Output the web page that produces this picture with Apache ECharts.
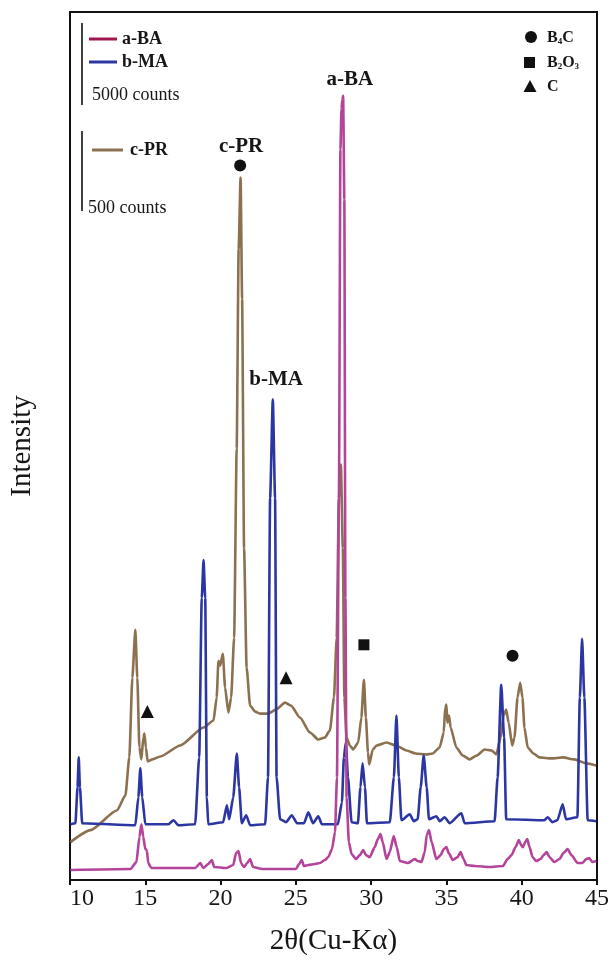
<!DOCTYPE html>
<html><head><meta charset="utf-8">
<script src="https://cdn.jsdelivr.net/npm/echarts@6/dist/echarts.min.js"></script>
<style>html,body{margin:0;padding:0;background:#fff}#c{width:613px;height:961px}</style>
</head><body><div id="c"></div>
<script>
// 2θ tick labels
const xTicks = [10, 15, 20, 25, 30, 35, 40, 45];

// a-BA pattern: [2θ, intensity (a.u., offset)]
const aBA = [[10.03,10],[14.01,11],[14.41,18],[14.61,43],[14.74,56],[14.87,43],[15.00,31],[15.10,30],[15.20,17],[15.40,12],
[18.32,12],[18.65,17],[18.85,12],[19.18,16],[19.42,20],[19.58,13],[20.37,12],[20.84,15],[21.03,27],[21.19,29],[21.36,17],
[21.56,13],[21.76,17],[21.96,21],[22.16,13],[22.76,11],[25.01,11],[25.21,16],[25.39,20],[25.54,14],[25.83,15],[26.27,16],
[26.60,17],[26.93,20],[27.15,23],[27.40,31],[27.60,48],[27.73,103],[27.86,383],[27.96,733],[28.03,774],[28.09,783],[28.14,787],
[28.22,683],[28.29,283],[28.37,83],[28.52,38],[28.70,26],[28.99,21],[29.25,25],[29.47,30],[29.65,25],[29.91,23],[30.24,33],
[30.44,41],[30.62,46],[30.77,38],[31.02,21],[31.24,28],[31.50,44],[31.70,33],[31.90,19],[32.43,17],[32.90,21],[33.09,19],
[33.34,18],[33.56,28],[33.69,45],[33.84,50],[34.02,38],[34.33,21],[34.62,25],[34.82,31],[35.00,33],[35.15,27],[35.43,20],
[35.74,23],[35.94,28],[36.14,21],[36.32,15],[36.87,14],[37.86,13],[38.75,14],[39.06,21],[39.33,25],[39.59,33],[39.81,40],
[39.96,35],[40.08,33],[40.23,38],[40.37,41],[40.52,33],[40.72,23],[40.96,19],[41.25,21],[41.45,25],[41.66,28],[41.84,23],
[42.17,18],[42.51,21],[42.77,27],[43.05,31],[43.30,25],[43.72,17],[44.03,17],[44.29,21],[44.49,22],[44.69,18],[44.96,19]];

// b-MA pattern
const bMA = [[10.03,56],[10.36,57],[10.50,93],[10.58,123],[10.66,93],[10.81,57],[14.34,55],[14.54,83],[14.67,112],[14.80,83],
[15.00,56],[16.53,56],[16.88,60],[17.19,55],[18.31,56],[18.58,123],[18.75,283],[18.87,321],[18.98,283],[19.09,83],[19.18,56],
[20.17,58],[20.42,75],[20.57,61],[20.84,83],[21.08,127],[21.23,93],[21.41,57],[21.70,65],[21.96,55],[22.96,56],[23.15,103],
[23.29,383],[23.47,482],[23.62,383],[23.72,103],[23.95,61],[24.35,58],[24.73,65],[25.08,57],[25.54,57],[25.83,68],[26.14,57],
[26.49,64],[26.73,56],[27.79,56],[28.06,78],[28.19,123],[28.32,138],[28.46,103],[28.70,58],[29.12,57],[29.29,93],[29.43,117],
[29.59,93],[29.72,57],[31.24,58],[31.51,103],[31.68,165],[31.84,103],[32.01,60],[32.57,66],[32.83,59],[33.09,61],[33.29,93],
[33.49,125],[33.69,93],[33.84,61],[34.33,64],[34.55,59],[34.88,63],[35.22,57],[35.99,67],[36.21,57],[38.20,59],[38.40,103],
[38.64,196],[38.83,143],[38.97,61],[41.51,60],[41.73,63],[42.04,58],[42.37,60],[42.72,76],[42.94,61],[43.70,63],[43.86,183],
[44.01,242],[44.16,183],[44.38,60],[44.96,59]];

// c-PR pattern
const cPR = [[10.03,38],[11.36,50],[13.13,70],[13.68,85],[13.94,123],[14.14,203],[14.34,251],[14.47,203],[14.61,133],[14.74,121],
[14.87,143],[14.94,147],[15.04,133],[15.16,119],[15.47,121],[16.00,124],[17.32,135],[18.87,153],[19.53,160],[19.74,183],
[19.86,220],[19.97,215],[20.15,227],[20.30,193],[20.52,168],[20.70,183],[20.90,243],[21.07,433],[21.20,633],[21.33,705],
[21.43,583],[21.56,333],[21.73,213],[21.96,175],[22.29,169],[22.62,167],[23.15,167],[23.68,171],[24.28,178],[24.68,175],
[25.27,163],[25.94,148],[26.49,141],[26.93,143],[27.26,150],[27.53,183],[27.71,243],[27.86,383],[27.99,417],[28.12,333],
[28.22,183],[28.37,143],[28.59,135],[28.81,131],[29.14,138],[29.35,163],[29.52,201],[29.65,163],[29.79,128],[29.87,116],
[30.11,131],[30.36,135],[31.02,138],[31.64,135],[32.35,130],[32.96,127],[33.67,126],[34.09,127],[34.55,133],[34.82,148],
[34.92,173],[35.00,176],[35.06,158],[35.17,165],[35.28,153],[35.66,133],[36.08,125],[36.54,121],[37.01,125],[37.54,131],
[38.00,130],[38.31,126],[38.60,143],[38.79,165],[38.97,171],[39.13,158],[39.37,135],[39.52,143],[39.72,183],[39.90,198],
[40.05,183],[40.18,153],[40.40,133],[40.78,127],[41.18,123],[41.98,122],[42.72,123],[43.50,121],[44.29,117],[44.94,115]];

// phase markers [2θ, intensity]
const markB4C = [[21.30,717],[39.39,225]];
const markB2O3 = [[29.52,236]];
const markC = [[15.14,169],[24.35,203]];

// peak labels [2θ, intensity, text]
const peakLabels = [[21.36,736,'c-PR'],[23.69,502,'b-MA'],[28.59,803,'a-BA']];

const COL_A = '#b4449a', COL_A_LEG = '#a0174f', COL_B = '#2b36a3', COL_C = '#8c7150';
const TXT = '#161616';
const SERIF = '"Liberation Serif", "DejaVu Serif", serif';

const lineBase = {type: 'line', showSymbol: false, smooth: 0.2, smoothMonotone: 'x'};
const markStyle = {color: '#111', opacity: 1};

const chart = echarts.init(document.getElementById('c'), null, {renderer: 'canvas'});
chart.setOption({
  backgroundColor: '#fff',
  animation: false,
  grid: {left: 69, right: 16, top: 12, bottom: 78, show: true, borderColor: '#111', borderWidth: 2},
  xAxis: {
    type: 'value', min: 10, max: 45, interval: 5,
    name: '2θ(Cu-Kα)', nameLocation: 'middle', nameGap: 47,
    nameTextStyle: {fontFamily: SERIF, fontSize: 29, color: TXT},
    axisLine: {show: true, lineStyle: {color: '#111', width: 2}},
    axisTick: {show: true, inside: false, length: 5, lineStyle: {color: '#111', width: 2}},
    axisLabel: {fontFamily: SERIF, fontSize: 24, color: TXT, margin: 7, alignMinLabel: 'left', alignMaxLabel: 'center',
      formatter: v => xTicks.includes(v) ? String(v) : ''},
    splitLine: {show: false}
  },
  yAxis: {
    type: 'value', min: 0, max: 871,
    name: 'Intensity', nameLocation: 'middle', nameGap: 33,
    nameTextStyle: {fontFamily: SERIF, fontSize: 29, color: TXT},
    axisLine: {show: true, lineStyle: {color: '#111', width: 2}},
    axisTick: {show: false}, axisLabel: {show: false}, splitLine: {show: false}
  },
  series: [
    Object.assign({name: 'c-PR', data: cPR, lineStyle: {color: COL_C, width: 2.6}, z: 2}, lineBase),
    Object.assign({name: 'b-MA', data: bMA, lineStyle: {color: COL_B, width: 2.6}, z: 3}, lineBase),
    Object.assign({name: 'a-BA', data: aBA, lineStyle: {color: COL_A, width: 2.6}, z: 4}, lineBase),
    {type: 'scatter', data: markB4C, symbol: 'circle', symbolSize: 12, itemStyle: markStyle, z: 5},
    {type: 'scatter', data: markB2O3, symbol: 'rect', symbolSize: 11, itemStyle: markStyle, z: 5},
    {type: 'scatter', data: markC, symbol: 'triangle', symbolSize: 13, itemStyle: markStyle, z: 5},
    {type: 'scatter', data: peakLabels.map(p => ({value: [p[0], p[1]], name: p[2]})), symbolSize: 0, z: 6,
      itemStyle: {opacity: 1},
      label: {show: true, position: 'inside', formatter: p => p.name, fontFamily: SERIF, fontWeight: 'bold', fontSize: 21,
        color: TXT, opacity: 1, textBorderWidth: 0}}
  ],
  graphic: [
    {type: 'line', shape: {x1: 82, y1: 23, x2: 82, y2: 105}, style: {stroke: '#111', lineWidth: 1.6}},
    {type: 'line', shape: {x1: 89, y1: 39, x2: 117, y2: 39}, style: {stroke: COL_A_LEG, lineWidth: 3}},
    {type: 'text', x: 122, y: 39, style: {text: 'a-BA', font: 'bold 18px ' + SERIF, fill: TXT, verticalAlign: 'middle'}},
    {type: 'line', shape: {x1: 89, y1: 62, x2: 117, y2: 62}, style: {stroke: COL_B, lineWidth: 3}},
    {type: 'text', x: 122, y: 62, style: {text: 'b-MA', font: 'bold 18px ' + SERIF, fill: TXT, verticalAlign: 'middle'}},
    {type: 'text', x: 92, y: 95, style: {text: '5000 counts', font: '18px ' + SERIF, fill: TXT, verticalAlign: 'middle'}},
    {type: 'line', shape: {x1: 82, y1: 131, x2: 82, y2: 211}, style: {stroke: '#111', lineWidth: 1.6}},
    {type: 'line', shape: {x1: 92, y1: 150, x2: 123, y2: 150}, style: {stroke: COL_C, lineWidth: 3}},
    {type: 'text', x: 130, y: 150, style: {text: 'c-PR', font: 'bold 18px ' + SERIF, fill: TXT, verticalAlign: 'middle'}},
    {type: 'text', x: 88, y: 208, style: {text: '500 counts', font: '18px ' + SERIF, fill: TXT, verticalAlign: 'middle'}},
    {type: 'circle', shape: {cx: 531, cy: 37, r: 6}, style: {fill: '#111'}},
    {type: 'rect', shape: {x: 524, y: 57, width: 11, height: 11}, style: {fill: '#111'}},
    {type: 'polygon', shape: {points: [[530, 80], [536.5, 92], [523.5, 92]]}, style: {fill: '#111'}},
    {type: 'text', x: 547, y: 38, style: {text: '{b|B}{s|4}{b|C}', verticalAlign: 'middle',
      rich: {b: {font: 'bold 16px ' + SERIF, fill: TXT}, s: {font: 'bold 9px ' + SERIF, fill: TXT, verticalAlign: 'bottom', padding: [8,0,0,0]}}}},
    {type: 'text', x: 547, y: 63, style: {text: '{b|B}{s|2}{b|O}{s|3}', verticalAlign: 'middle',
      rich: {b: {font: 'bold 16px ' + SERIF, fill: TXT}, s: {font: 'bold 9px ' + SERIF, fill: TXT, verticalAlign: 'bottom', padding: [8,0,0,0]}}}},
    {type: 'text', x: 547, y: 87, style: {text: 'C', font: 'bold 16px ' + SERIF, fill: TXT, verticalAlign: 'middle'}}
  ]
});
</script></body></html>
